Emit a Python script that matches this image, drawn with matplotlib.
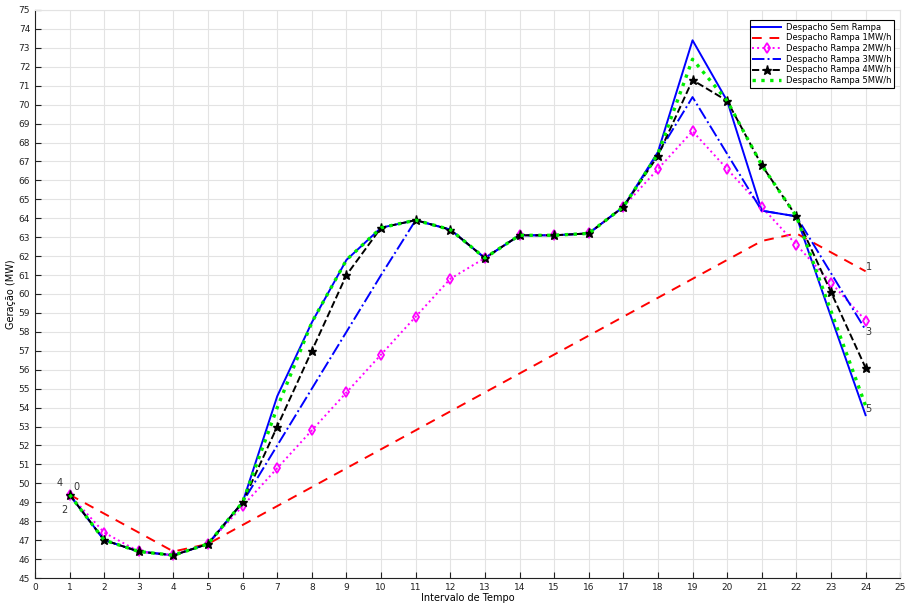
import matplotlib
matplotlib.use('Agg')
import matplotlib.pyplot as plt

horas = list(range(1, 25))

sem_rampa = [49.4, 47.0, 46.4, 46.2, 46.8, 49.0, 54.6, 58.5, 61.8, 63.5, 63.9, 63.4,
             61.9, 63.1, 63.1, 63.2, 64.6, 67.5, 73.4, 70.2, 64.4, 64.1, 58.8, 53.6]
rampa_1 = [49.4, 48.4, 47.4, 46.4, 46.8, 47.8, 48.8, 49.8, 50.8, 51.8, 52.8, 53.8,
           54.8, 55.8, 56.8, 57.8, 58.8, 59.8, 60.8, 61.8, 62.8, 63.2, 62.2, 61.2]
rampa_2 = [49.4, 47.4, 46.4, 46.2, 46.8, 48.8, 50.8, 52.8, 54.8, 56.8, 58.8, 60.8,
           61.9, 63.1, 63.1, 63.2, 64.6, 66.6, 68.6, 66.6, 64.6, 62.6, 60.6, 58.6]
rampa_3 = [49.4, 47.0, 46.4, 46.2, 46.8, 49.0, 52.0, 55.0, 58.0, 61.0, 63.9, 63.4,
           61.9, 63.1, 63.1, 63.2, 64.6, 67.4, 70.4, 67.4, 64.4, 64.1, 61.1, 58.1]
rampa_4 = [49.4, 47.0, 46.4, 46.2, 46.8, 49.0, 53.0, 57.0, 61.0, 63.5, 63.9, 63.4,
           61.9, 63.1, 63.1, 63.2, 64.6, 67.3, 71.3, 70.2, 66.8, 64.1, 60.1, 56.1]
rampa_5 = [49.4, 47.0, 46.4, 46.2, 46.8, 49.0, 54.0, 58.5, 61.8, 63.5, 63.9, 63.4,
           61.9, 63.1, 63.1, 63.2, 64.6, 67.4, 72.4, 70.2, 66.8, 64.1, 59.1, 54.1]

# rotulos das curvas nas pontas
rotulos_ini = [('4', 0.72, 50.0), ('0', 1.2, 49.8), ('2', 0.85, 48.6)]
rotulos_fim = [('1', 24.0, 61.4), ('3', 24.0, 58.0), ('5', 24.0, 53.9)]

fig = plt.figure(figsize=(9.06, 6.09), dpi=100)
ax = fig.add_axes([0.0386, 0.0509, 0.955, 0.9327])

ax.plot(horas, sem_rampa, '-', color='#0000ff', lw=1.4, label='Despacho Sem Rampa')
ax.plot(horas, rampa_1, '--', color='#ff0000', lw=1.4, dashes=(5, 4), label='Despacho Rampa 1MW/h')
ax.plot(horas, rampa_2, ':', color='#ff00ff', lw=1.4, marker='d', ms=5, mfc='none',
        mec='#ff00ff', mew=1.3, label='Despacho Rampa 2MW/h')
ax.plot(horas, rampa_3, '-.', color='#0000ff', lw=1.4, label='Despacho Rampa 3MW/h')
ax.plot(horas, rampa_4, '--', color='black', lw=1.4, marker='*', ms=6.5, label='Despacho Rampa 4MW/h')
ax.plot(horas, rampa_5, ':', color='#00ee00', lw=2.4, label='Despacho Rampa 5MW/h')

for txt, x, y in rotulos_ini + rotulos_fim:
    ax.text(x, y, txt, fontsize=7, color='#333333', ha='left' if x > 20 else 'center', va='center')

ax.set_xlim(0, 25)
ax.set_ylim(45, 75)
ax.set_xticks(range(0, 26))
ax.set_yticks(range(45, 76))
ax.tick_params(direction='in', labelsize=6.5, colors='#222222', length=4, width=0.8)
ax.grid(True, color='#e3e3e3', lw=0.8)
ax.set_axisbelow(True)
for s in ['top', 'right']:
    ax.spines[s].set_color('#e3e3e3')
for s in ['left', 'bottom']:
    ax.spines[s].set_color('#222222')

ax.set_xlabel('Intervalo de Tempo', fontsize=7, labelpad=1)
ax.set_ylabel('Geração (MW)', fontsize=7, labelpad=2)

leg = ax.legend(loc='upper right', fontsize=6, fancybox=False, framealpha=1,
                edgecolor='black', handlelength=3.4, borderpad=0.35, labelspacing=0.2,
                handletextpad=0.6, bbox_to_anchor=(0.998, 0.99))
leg.get_frame().set_linewidth(0.8)

plt.savefig('out.png', dpi=100)
